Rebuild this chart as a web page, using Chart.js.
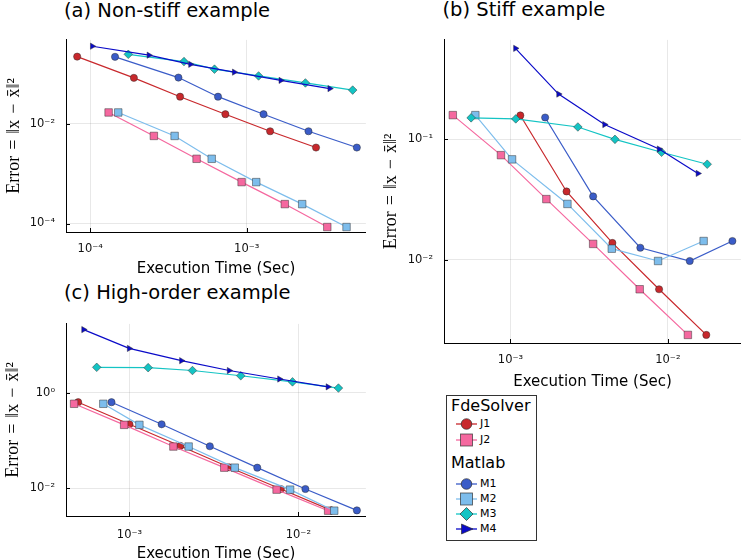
<!DOCTYPE html>
<html><head><meta charset="utf-8">
<script src="https://cdn.jsdelivr.net/npm/chart.js@4.4.0/dist/chart.umd.min.js"></script>
<style>
html,body{margin:0;padding:0;width:747px;height:560px;overflow:hidden;background:#fff;}
canvas{position:absolute;}
.ttl{position:absolute;font-family:'DejaVu Sans',sans-serif;font-size:19.5px;line-height:24px;color:#000;white-space:nowrap;}
#legend{position:absolute;left:446px;top:395px;width:89px;height:144px;border:1.4px solid #333;background:#fff;font-family:'DejaVu Sans',sans-serif;color:#000;}
.lg-h{position:absolute;left:4px;font-size:16px;line-height:20px;white-space:nowrap;}
.lg-r{position:absolute;left:9px;height:14px;white-space:nowrap;}
.lg-r svg{position:absolute;left:0;top:0;}
.lg-r span{position:absolute;left:24px;top:0;font-size:11px;line-height:14px;}
</style></head><body>
<div class="ttl" style="left:64px;top:-1.5px">(a) Non-stiff example</div>
<div class="ttl" style="left:442.5px;top:-2px">(b) Stiff example</div>
<div class="ttl" style="left:64px;top:280.5px">(c) High-order example</div>
<canvas id="ca" width="372" height="260" style="left:0;top:22px;width:372px;height:260px"></canvas>
<canvas id="cb" width="375" height="370" style="left:372px;top:22px;width:375px;height:370px"></canvas>
<canvas id="cc" width="372" height="260" style="left:0;top:306px;width:372px;height:260px"></canvas>
<div id="legend"></div>
<script>
// ---------- Data: (a) Non-stiff example ----------
const a_J1_t = [8.25e-5, 1.90e-4, 3.75e-4, 7.3e-4, 1.41e-3, 2.77e-3];
const a_J1_e = [0.221, 0.083, 0.0348, 0.0155, 0.00706, 0.00333];
const a_J2_t = [1.31e-4, 2.55e-4, 4.78e-4, 9.27e-4, 1.75e-3, 3.27e-3];
const a_J2_e = [0.0168, 0.00569, 0.00198, 6.76e-4, 2.45e-4, 8.5e-5];
const a_M1_t = [1.44e-4, 3.66e-4, 6.55e-4, 1.28e-3, 2.48e-3, 5.05e-3];
const a_M1_e = [0.219, 0.084, 0.0348, 0.0155, 0.00706, 0.00333];
const a_M2_t = [1.51e-4, 3.46e-4, 5.97e-4, 1.15e-3, 2.26e-3, 4.34e-3];
const a_M2_e = [0.0168, 0.00569, 0.00198, 6.76e-4, 2.45e-4, 8.5e-5];
const a_M3_t = [1.75e-4, 3.97e-4, 6.22e-4, 1.19e-3, 2.37e-3, 4.75e-3];
const a_M3_e = [0.246, 0.176, 0.124, 0.0906, 0.0656, 0.0472];
const a_M4_t = [1.03e-4, 2.37e-4, 4.37e-4, 8.32e-4, 1.65e-3, 3.39e-3];
const a_M4_e = [0.357, 0.236, 0.155, 0.108, 0.0738, 0.0506];

// ---------- Data: (b) Stiff example ----------
const b_J1_t = [1.155e-3, 2.27e-3, 4.44e-3, 8.79e-3, 0.01754];
const b_J1_e = [0.157, 0.0368, 0.01377, 0.00569, 0.00238];
const b_J2_t = [4.30e-4, 8.7e-4, 1.69e-3, 3.35e-3, 6.62e-3, 0.0134];
const b_J2_e = [0.158, 0.0736, 0.0318, 0.01352, 0.00569, 0.00238];
const b_M1_t = [1.66e-3, 3.35e-3, 6.68e-3, 0.01377, 0.0257];
const b_M1_e = [0.151, 0.0335, 0.01257, 0.00976, 0.01429];
const b_M2_t = [5.98e-4, 1.023e-3, 2.30e-3, 4.40e-3, 8.66e-3, 0.01687];
const b_M2_e = [0.158, 0.0679, 0.0290, 0.01234, 0.00976, 0.01429];
const b_M3_t = [5.62e-4, 1.08e-3, 2.68e-3, 4.61e-3, 9.12e-3, 0.01778];
const b_M3_e = [0.150, 0.147, 0.126, 0.0995, 0.0778, 0.0619];
const b_M4_t = [1.075e-3, 2.02e-3, 3.96e-3, 8.79e-3, 0.01552];
const b_M4_e = [0.565, 0.236, 0.132, 0.0827, 0.0519];

// ---------- Data: (c) High-order example ----------
const c_J1_t = [4.97e-4, 1.0e-3, 2.0e-3, 3.89e-3, 7.87e-3, 0.0157];
const c_J1_e = [0.635, 0.219, 0.0771, 0.0276, 0.0097, 0.00346];
const c_J2_t = [4.70e-4, 9.3e-4, 1.82e-3, 3.64e-3, 7.43e-3, 0.0150];
const c_J2_e = [0.588, 0.213, 0.0750, 0.0271, 0.0094, 0.00341];
const c_M1_t = [7.83e-4, 1.55e-3, 2.99e-3, 5.71e-3, 0.011, 0.0222];
const c_M1_e = [0.635, 0.219, 0.076, 0.0271, 0.0097, 0.00346];
const c_M2_t = [7.0e-4, 1.145e-3, 2.24e-3, 4.20e-3, 8.93e-3, 0.0163];
const c_M2_e = [0.588, 0.213, 0.075, 0.0271, 0.0094, 0.00341];
const c_M3_t = [6.4e-4, 1.29e-3, 2.36e-3, 4.56e-3, 9.23e-3, 0.01726];
const c_M3_e = [3.41, 3.35, 2.92, 2.27, 1.69, 1.255];
const c_M4_t = [5.35e-4, 9.96e-4, 2.03e-3, 3.89e-3, 7.73e-3, 0.01496];
const c_M4_e = [21.0, 8.47, 4.69, 2.92, 1.94, 1.33];

// ---------- Ticks ----------
const a_xTicks = [1e-4, 1e-3];  const a_xTickLabels = ['10⁻⁴', '10⁻³'];
const a_yTicks = [1e-4, 1e-2];  const a_yTickLabels = ['10⁻⁴', '10⁻²'];
const b_xTicks = [1e-3, 1e-2];  const b_xTickLabels = ['10⁻³', '10⁻²'];
const b_yTicks = [1e-2, 1e-1];  const b_yTickLabels = ['10⁻²', '10⁻¹'];
const c_xTicks = [1e-3, 1e-2];  const c_xTickLabels = ['10⁻³', '10⁻²'];
const c_yTicks = [1e-2, 1];     const c_yTickLabels = ['10⁻²', '10⁰'];

const seriesNames = ['J1', 'J2', 'M1', 'M2', 'M3', 'M4'];
const groupTitles = ['FdeSolver', 'Matlab'];
const xTitle = 'Execution Time (Sec)';
const yTitle = 'Error\u2004=\u2004‖x\u2004−\u2004x̄‖²';

// ---------- Styles ----------
const styles = {
  J1: {color: '#c8282c', point: 'circle', r: 3.6, rot: 0},
  J2: {color: '#f5689f', point: 'rect', r: 5.3, rot: 0},
  M1: {color: '#3a5cc8', point: 'circle', r: 3.6, rot: 0},
  M2: {color: '#7dbdec', point: 'rect', r: 5.3, rot: 0},
  M3: {color: '#14c4c4', point: 'rectRot', r: 4.3, rot: 0},
  M4: {color: '#0a0ac8', point: 'triangle', r: 3.6, rot: 90}
};

function pts(t, e) { return t.map((v, i) => ({x: v, y: e[i]})); }

function makeDatasets(p) {
  return seriesNames.map((n, i) => {
    const s = styles[n];
    return {
      label: n,
      data: pts(p[n + '_t'], p[n + '_e']),
      borderColor: s.color,
      backgroundColor: s.color,
      borderWidth: 1.2,
      pointStyle: s.point,
      pointRadius: s.r,
      pointRotation: s.rot,
      pointBackgroundColor: s.color,
      pointBorderColor: 'rgba(45,45,45,0.6)',
      pointBorderWidth: 0.8,
      tension: 0,
      order: seriesNames.length - i
    };
  });
}

const inwardTicks = {
  id: 'inwardTicks',
  beforeDatasetsDraw(chart) {
    const {ctx, chartArea, scales} = chart;
    ctx.save();
    ctx.strokeStyle = '#000';
    ctx.lineWidth = 1;
    scales.x.ticks.forEach(t => {
      const px = Math.round(scales.x.getPixelForValue(t.value)) + 0.5;
      ctx.beginPath(); ctx.moveTo(px, chartArea.bottom); ctx.lineTo(px, chartArea.bottom - 4); ctx.stroke();
    });
    scales.y.ticks.forEach(t => {
      const py = Math.round(scales.y.getPixelForValue(t.value)) + 0.5;
      ctx.beginPath(); ctx.moveTo(chartArea.left, py); ctx.lineTo(chartArea.left + 4, py); ctx.stroke();
    });
    ctx.restore();
  }
};

function makeChart(id, p, cfg) {
  new Chart(document.getElementById(id), {
    type: 'line',
    data: {datasets: makeDatasets(p)},
    plugins: [inwardTicks],
    options: {
      responsive: false,
      animation: false,
      events: [],
      layout: {padding: cfg.pad},
      plugins: {legend: {display: false}, tooltip: {enabled: false}, title: {display: false}},
      scales: {
        x: {
          type: 'logarithmic',
          min: cfg.xr[0], max: cfg.xr[1],
          afterBuildTicks: s => { s.ticks = cfg.xt.map(v => ({value: v})); },
          afterFit: s => { s.height = cfg.xh; },
          ticks: {
            callback: (v, i) => cfg.xl[i],
            font: {family: 'DejaVu Sans', size: 11.5},
            color: '#111', maxRotation: 0, autoSkip: false, padding: cfg.xpad
          },
          grid: {color: 'rgba(0,0,0,0.09)', drawTicks: false, lineWidth: 1},
          border: {color: '#000', width: 1},
          title: {display: true, text: xTitle, color: '#000',
                  font: {family: 'DejaVu Sans', size: 15}, padding: {top: 0, bottom: cfg.xtb}}
        },
        y: {
          type: 'logarithmic',
          min: cfg.yr[0], max: cfg.yr[1],
          afterBuildTicks: s => { s.ticks = cfg.yt.map(v => ({value: v})); },
          afterFit: s => { s.width = cfg.yw; },
          ticks: {
            callback: (v, i) => cfg.yl[i],
            font: {family: 'DejaVu Sans', size: 11.5},
            color: '#111', autoSkip: false, padding: 11
          },
          grid: {color: 'rgba(0,0,0,0.09)', drawTicks: false, lineWidth: 1},
          border: {color: '#000', width: 1},
          title: {display: true, text: yTitle, color: '#000',
                  font: {family: "'Liberation Serif','DejaVu Serif',serif", size: 18},
                  padding: {top: cfg.ytp, bottom: 0}}
        }
      }
    }
  });
}

const panelA = {J1_t: a_J1_t, J1_e: a_J1_e, J2_t: a_J2_t, J2_e: a_J2_e, M1_t: a_M1_t, M1_e: a_M1_e,
                M2_t: a_M2_t, M2_e: a_M2_e, M3_t: a_M3_t, M3_e: a_M3_e, M4_t: a_M4_t, M4_e: a_M4_e};
const panelB = {J1_t: b_J1_t, J1_e: b_J1_e, J2_t: b_J2_t, J2_e: b_J2_e, M1_t: b_M1_t, M1_e: b_M1_e,
                M2_t: b_M2_t, M2_e: b_M2_e, M3_t: b_M3_t, M3_e: b_M3_e, M4_t: b_M4_t, M4_e: b_M4_e};
const panelC = {J1_t: c_J1_t, J1_e: c_J1_e, J2_t: c_J2_t, J2_e: c_J2_e, M1_t: c_M1_t, M1_e: c_M1_e,
                M2_t: c_M2_t, M2_e: c_M2_e, M3_t: c_M3_t, M3_e: c_M3_e, M4_t: c_M4_t, M4_e: c_M4_e};

makeChart('ca', panelA, {
  pad: {top: 6, right: 4, left: 0, bottom: 0},
  xr: [7.28e-5, 5.77e-3], yr: [6.76e-5, 0.478],
  xt: a_xTicks, xl: a_xTickLabels, yt: a_yTicks, yl: a_yTickLabels,
  xh: 50, yw: 66, xtb: 4, ytp: 3, xpad: 10
});
makeChart('cb', panelB, {
  pad: {top: 7, right: 1, left: 0, bottom: 0},
  xr: [3.78e-4, 0.0291], yr: [2.04e-3, 0.664],
  xt: b_xTicks, xl: b_xTickLabels, yt: b_yTicks, yl: b_yTickLabels,
  xh: 49, yw: 72, xtb: 1, ytp: 8.5, xpad: 10
});
makeChart('cc', panelC, {
  pad: {top: 6, right: 4, left: 0, bottom: 0},
  xr: [4.21e-4, 0.0251], yr: [2.64e-3, 27.6],
  xt: c_xTicks, xl: c_xTickLabels, yt: c_yTicks, yl: c_yTickLabels,
  xh: 50, yw: 66, xtb: 3, ytp: 2, xpad: 12
});

// ---------- Legend ----------
function symbolSvg(n) {
  const s = styles[n], c = s.color, st = 'stroke="rgba(45,45,45,0.75)" stroke-width="0.9"';
  let m = '';
  if (n === 'J1' || n === 'M1') m = `<circle cx="10.5" cy="7" r="5.3" fill="${c}" ${st}/>`;
  else if (n === 'J2' || n === 'M2') m = `<rect x="4.5" y="1" width="12" height="12" fill="${c}" ${st}/>`;
  else if (n === 'M3') m = `<polygon points="10.5,0.5 17,7 10.5,13.5 4,7" fill="${c}" ${st}/>`;
  else m = `<polygon points="5.5,2 17,7 5.5,12" fill="${c}" ${st}/>`;
  return `<svg width="24" height="14" viewBox="0 0 24 14"><line x1="0" y1="7" x2="21" y2="7" stroke="${c}" stroke-width="1.3"/>${m}</svg>`;
}
const legendLayout = [
  {type: 'h', text: groupTitles[0], y: 10},
  {type: 'r', name: seriesNames[0], y: 28},
  {type: 'r', name: seriesNames[1], y: 44},
  {type: 'h', text: groupTitles[1], y: 67},
  {type: 'r', name: seriesNames[2], y: 88},
  {type: 'r', name: seriesNames[3], y: 103},
  {type: 'r', name: seriesNames[4], y: 118},
  {type: 'r', name: seriesNames[5], y: 133}
];
const lg = document.getElementById('legend');
legendLayout.forEach(it => {
  const d = document.createElement('div');
  if (it.type === 'h') {
    d.className = 'lg-h'; d.style.top = (it.y - 10) + 'px'; d.textContent = it.text;
  } else {
    d.className = 'lg-r'; d.style.top = (it.y - 7) + 'px';
    d.innerHTML = symbolSvg(it.name) + `<span>${it.name}</span>`;
  }
  lg.appendChild(d);
});
</script>
</body></html>
